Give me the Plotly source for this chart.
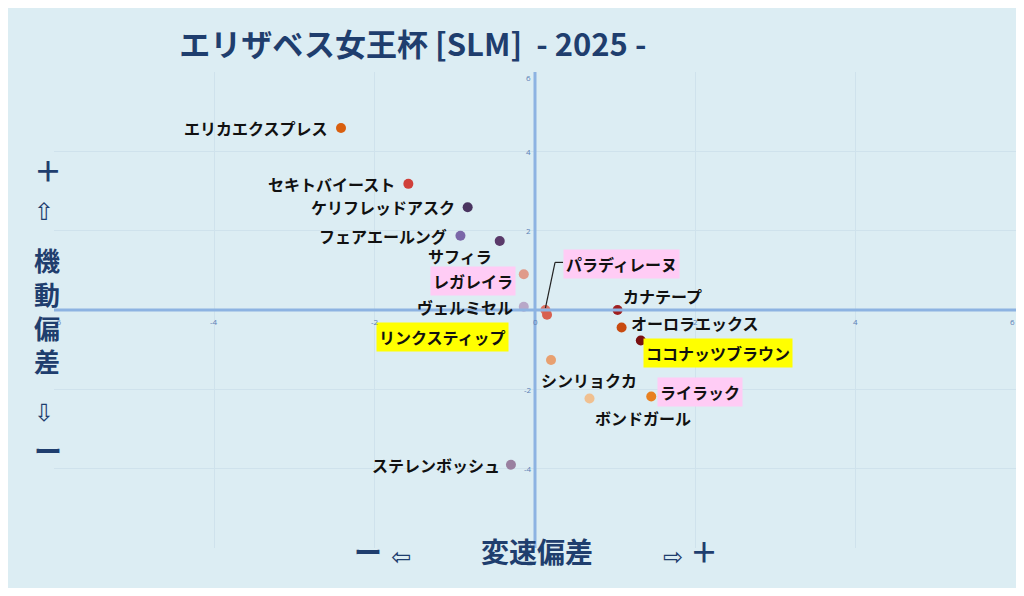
import plotly.graph_objects as go

names = ["エリカエクスプレス", "セキトバイースト", "ケリフレッドアスク", "フェアエールング", "サフィラ",
         "レガレイラ", "ヴェルミセル", "パラディレーヌ", "リンクスティップ", "カナテープ",
         "オーロラエックス", "ココナッツブラウン", "シンリョクカ", "ボンドガール", "ライラック", "ステレンボッシュ"]
speed = [-2.42, -1.58, -0.84, -0.93, -0.44, -0.14, -0.14, 0.13, 0.15, 1.03, 1.08, 1.32, 0.20, 0.68, 1.45, -0.30]
mobility = [4.59, 3.18, 2.59, 1.87, 1.74, 0.90, 0.08, 0.00, -0.12, 0.00, -0.44, -0.77, -1.26, -2.23, -2.18, -3.90]
colors = ["#d95f0e", "#d0403a", "#4a3560", "#7a66a8", "#5a3a6a", "#e09a8a", "#b8a8c8", "#e07060",
          "#d86050", "#a02020", "#c84a10", "#7a1010", "#e8a070", "#f0c090", "#e88020", "#9a80a0"]
highlight = ["", "", "", "", "", "#ffccf5", "", "#ffccf5", "#ffff00", "", "", "#ffff00", "", "", "#ffccf5", ""]
ticks = [-6, -4, -2, 0, 2, 4, 6]

# label placement: (xanchor, dx px, dy px)
place = [("right", -10, 0), ("right", -10, 0), ("right", -10, 0), ("right", -10, 0), ("center", -40, 15),
         ("right", -8, 7), ("right", -8, 0), ("left", 18, -46), ("right", -38, 22), ("left", 2, -14),
         ("left", 6, -4), ("left", 2, 12), ("center", 38, 20), ("center", 53, 20), ("left", 6, -4), ("right", -8, 0)]

fig = go.Figure()
fig.add_trace(go.Scatter(x=speed, y=mobility, mode="markers",
                         marker=dict(size=10, color=colors, line=dict(width=0)), hoverinfo="text", text=names))

for n, x, y, h, (xa, dx, dy) in zip(names, speed, mobility, highlight, place):
    fig.add_annotation(x=x, y=y, text="<b>" + n + "</b>", showarrow=False, xanchor=xa, xshift=dx, yshift=-dy,
                       font=dict(size=16, color="#111", family="Noto Sans CJK JP"),
                       bgcolor=h if h else "rgba(0,0,0,0)", borderpad=2)
# leader line for パラディレーヌ
fig.add_shape(type="line", xref="x", yref="y", x0=speed[7], y0=mobility[7] + 0.05, x1=speed[7] + 0.12, y1=1.2,
              line=dict(color="#222", width=1.2))
fig.add_shape(type="line", xref="x", yref="y", x0=speed[7] + 0.12, y0=1.2, x1=speed[7] + 0.22, y1=1.2,
              line=dict(color="#222", width=1.2))

for t in ticks:
    fig.add_annotation(x=t, y=0, text=str(t), showarrow=False, yshift=-11, xshift=-4 if t == 6 else (4 if t == -6 else 0),
                       font=dict(size=8, color="#5b7fb5"))
    if t != 0:
        fig.add_annotation(x=0, y=t, text=str(t), showarrow=False, xshift=-7, yshift=-5 if t == 6 else (5 if t == -6 else 0),
                           font=dict(size=8, color="#5b7fb5"))

fig.add_shape(type="line", x0=-6, x1=6, y0=0, y1=0, line=dict(color="#8db3e2", width=3))
fig.add_shape(type="line", x0=0, x1=0, y0=-6, y1=6, line=dict(color="#8db3e2", width=3))

navy = "#1f3e6e"
side = dict(size=28, color=navy, family="Noto Sans CJK JP")
arrow = dict(size=24, color=navy, family="DejaVu Sans")
fig.add_annotation(xref="paper", yref="paper", x=-0.023, y=0.84, text="<b>＋</b>", showarrow=False, font=side)
fig.add_annotation(xref="paper", yref="paper", x=-0.023, y=0.74, text="⇧", showarrow=False, font=arrow)
fig.add_annotation(xref="paper", yref="paper", x=-0.023, y=0.50, text="<b>機<br>動<br>偏<br>差</b>", showarrow=False,
                   font=dict(size=26, color=navy, family="Noto Sans CJK JP"))
fig.add_annotation(xref="paper", yref="paper", x=-0.023, y=0.25, text="⇩", showarrow=False, font=arrow)
fig.add_annotation(xref="paper", yref="paper", x=-0.023, y=0.16, text="<b>ー</b>", showarrow=False, font=side)
for px, txt, f in [(350, "<b>ー</b>", side), (398, "⇦", arrow), (533, "<b>変速偏差</b>", side),
                   (668, "⇨", arrow), (714, "<b>＋</b>", side)]:
    fig.add_annotation(xref="paper", yref="paper", x=(px - 54) / 954, y=-0.053, text=txt, showarrow=False, font=f)

fig.update_xaxes(range=[-6, 6], dtick=2, showticklabels=False, gridcolor="#cfe2ec", zeroline=False, showline=False)
fig.update_yaxes(range=[-6, 6], dtick=2, showticklabels=False, gridcolor="#cfe2ec", zeroline=False, showline=False)
fig.update_layout(
    width=1008, height=580,
    title=dict(text="<b>エリザベス女王杯 [SLM]  - 2025 -</b>", x=0.17, y=0.955, xanchor="left",
               font=dict(size=31, color=navy, family="Noto Sans CJK JP")),
    paper_bgcolor="#dcedf3", plot_bgcolor="#dcedf3",
    margin=dict(l=46, r=0, t=64, b=40),
    showlegend=False,
)
fig.add_shape(type="rect", xref="paper", yref="paper", x0=-0.0545, x1=1.0126, y0=-0.099, y1=1.1496,
              line=dict(color="#333", width=2))
fig.write_html("out.html")
